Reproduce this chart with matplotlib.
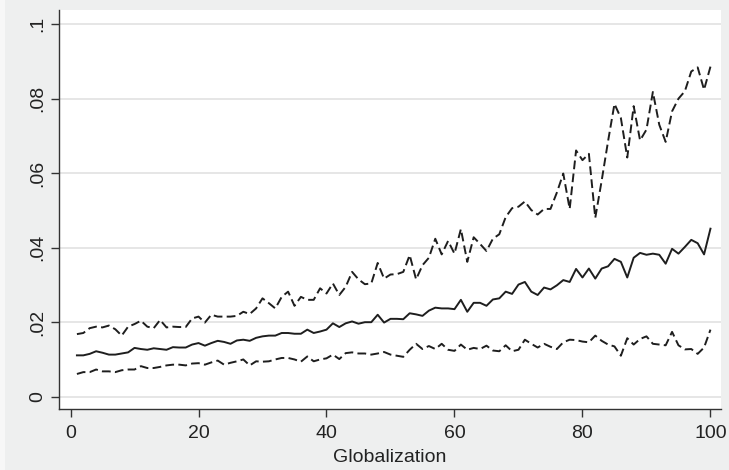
import numpy as np
import matplotlib.pyplot as plt
from matplotlib.patches import Rectangle

plt.rcParams['font.family'] = ['Liberation Sans', 'DejaVu Sans']

# Globalization 1..100, fitted value with upper/lower bands (in %)
globalization = list(range(1, 101))

upper = [1.68, 1.71, 1.84, 1.88, 1.86, 1.91, 1.81, 1.64, 1.88, 1.95,
         2.04, 1.88, 1.84, 2.06, 1.86, 1.88, 1.87, 1.87, 2.10, 2.15,
         1.99, 2.20, 2.15, 2.15, 2.15, 2.17, 2.28, 2.22, 2.37, 2.64,
         2.51, 2.37, 2.68, 2.82, 2.44, 2.68, 2.60, 2.60, 2.91, 2.77,
         3.04, 2.73, 2.95, 3.35, 3.15, 3.02, 3.04, 3.59, 3.17, 3.28,
         3.29, 3.35, 3.80, 3.15, 3.53, 3.73, 4.24, 3.82, 4.18, 3.84,
         4.50, 3.62, 4.28, 4.10, 3.91, 4.24, 4.36, 4.82, 5.06, 5.10,
         5.24, 5.01, 4.89, 5.04, 5.04, 5.48, 5.99, 5.04, 6.61, 6.35,
         6.52, 4.80, 5.80, 6.86, 7.86, 7.48, 6.42, 7.80, 6.88, 7.17,
         8.18, 7.30, 6.84, 7.66, 8.00, 8.20, 8.73, 8.84, 8.24, 8.86]

middle = [1.11, 1.11, 1.15, 1.22, 1.18, 1.13, 1.13, 1.16, 1.19, 1.31,
          1.28, 1.26, 1.30, 1.28, 1.26, 1.33, 1.32, 1.32, 1.40, 1.44,
          1.37, 1.44, 1.50, 1.47, 1.42, 1.51, 1.53, 1.50, 1.58, 1.62,
          1.64, 1.64, 1.71, 1.71, 1.69, 1.69, 1.80, 1.71, 1.75, 1.80,
          1.97, 1.87, 1.97, 2.02, 1.96, 2.00, 2.00, 2.20, 1.99, 2.09,
          2.09, 2.08, 2.24, 2.21, 2.17, 2.31, 2.39, 2.37, 2.37, 2.35,
          2.60, 2.28, 2.52, 2.52, 2.44, 2.61, 2.64, 2.82, 2.76, 3.01,
          3.08, 2.82, 2.73, 2.93, 2.88, 2.99, 3.13, 3.08, 3.43, 3.20,
          3.44, 3.17, 3.44, 3.50, 3.70, 3.62, 3.20, 3.73, 3.86, 3.81,
          3.84, 3.81, 3.57, 3.97, 3.84, 4.02, 4.21, 4.12, 3.82, 4.51]

lower = [0.61, 0.66, 0.66, 0.73, 0.68, 0.68, 0.66, 0.71, 0.73, 0.73,
         0.82, 0.77, 0.77, 0.80, 0.84, 0.86, 0.86, 0.84, 0.89, 0.90,
         0.86, 0.92, 0.97, 0.86, 0.91, 0.95, 1.00, 0.84, 0.95, 0.94,
         0.95, 1.00, 1.04, 1.04, 1.00, 0.94, 1.08, 0.95, 1.00, 1.03,
         1.13, 1.01, 1.17, 1.19, 1.16, 1.16, 1.13, 1.16, 1.20, 1.13,
         1.10, 1.07, 1.26, 1.42, 1.28, 1.36, 1.28, 1.42, 1.26, 1.23,
         1.40, 1.26, 1.31, 1.28, 1.37, 1.24, 1.22, 1.38, 1.22, 1.26,
         1.53, 1.42, 1.32, 1.42, 1.34, 1.28, 1.46, 1.53, 1.52, 1.48,
         1.46, 1.64, 1.50, 1.40, 1.35, 1.10, 1.57, 1.40, 1.55, 1.62,
         1.42, 1.40, 1.38, 1.74, 1.38, 1.27, 1.28, 1.15, 1.32, 1.80]

y_ticks = [0, 0.02, 0.04, 0.06, 0.08, 0.1]
y_labels = ['0', '.02', '.04', '.06', '.08', '.1']

x = np.array(globalization)
up = np.array(upper) / 100
mid = np.array(middle) / 100
low = np.array(lower) / 100

W, H = 729, 470
fig = plt.figure(figsize=(W / 100, H / 100), dpi=100, facecolor='#f7f7f7')
# gray graph region (thin light border on the left)
fig.patches.append(Rectangle((5 / W, 0), 1, 1, transform=fig.transFigure,
                             facecolor='#eeefef', edgecolor='none', zorder=-1))

ax = fig.add_axes([59 / W, (H - 409) / H, (720.7 - 59) / W, (409 - 10) / H])
ax.set_facecolor('white')

line_col = '#1e1e1e'
ax.plot(x, up, color=line_col, linewidth=1.4, dashes=(4.5, 2.2))
ax.plot(x, mid, color=line_col, linewidth=1.4)
ax.plot(x, low, color=line_col, linewidth=1.4, dashes=(4.5, 2.2))

ax.set_xlim(-1.8, 101.6)
ax.set_ylim(-0.0033, 0.1038)
ax.set_xticks([0, 20, 40, 60, 80, 100])
ax.set_yticks(y_ticks)
ax.set_yticklabels(y_labels, rotation=90, va='center')
ax.grid(axis='y', color='#e4e4e4', linewidth=1.3)
ax.set_axisbelow(True)

for s in ['top', 'right']:
    ax.spines[s].set_visible(False)
for s in ['left', 'bottom']:
    ax.spines[s].set_color('#333333')
    ax.spines[s].set_linewidth(1.0)

ax.tick_params(axis='both', direction='out', length=5.8, width=1.0, color='#333333',
               labelsize=14, labelcolor='#222222')
ax.tick_params(axis='x', pad=6)
ax.tick_params(axis='y', pad=3.5)

ax.set_xlabel('Globalization', fontsize=14, color='#222222')
ax.xaxis.set_label_coords(0.5, -(457 - 409) / (409 - 10))
ax.xaxis.label.set_va('center')

plt.savefig('out.png', dpi=100, facecolor=fig.get_facecolor())
